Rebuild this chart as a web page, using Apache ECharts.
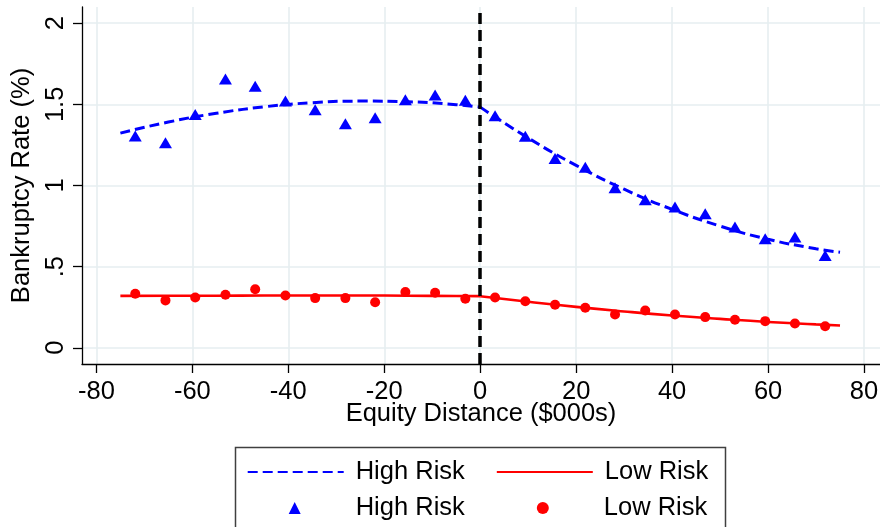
<!DOCTYPE html>
<html><head><meta charset="utf-8">
<script src="https://cdn.jsdelivr.net/npm/echarts@6/dist/echarts.min.js"></script>
<style>html,body{margin:0;padding:0;background:#fff}#c{width:880px;height:527px}</style>
</head><body><div id="c"></div>
<script>
// Bin centres (Equity Distance, $000s)
const binX = [-71.9, -65.6, -59.4, -53.1, -46.9, -40.6, -34.4, -28.1, -21.9, -15.6, -9.4, -3.1,
              3.1, 9.4, 15.6, 21.9, 28.1, 34.4, 40.6, 46.9, 53.1, 59.4, 65.6, 71.9];
// Binned bankruptcy rates (%)
const highRisk = [1.305, 1.264, 1.438, 1.656, 1.611, 1.520, 1.467, 1.381, 1.418, 1.529, 1.557, 1.525,
                  1.430, 1.303, 1.167, 1.113, 0.986, 0.912, 0.867, 0.826, 0.744, 0.672, 0.682, 0.569];
const lowRisk  = [0.333, 0.292, 0.310, 0.327, 0.361, 0.322, 0.306, 0.306, 0.281, 0.343, 0.339, 0.302,
                  0.310, 0.287, 0.265, 0.247, 0.205, 0.230, 0.205, 0.189, 0.173, 0.164, 0.150, 0.133];
// Fitted curves
const fitLeftX  = [-75, -65, -55, -45, -35, -25, -15, -5, 0];
const fitRightX = [0, 10, 20, 30, 40, 50, 60, 70, 75];
const highFitLeft  = [1.323, 1.391, 1.445, 1.485, 1.510, 1.520, 1.516, 1.498, 1.483];
const highFitRight = [1.483, 1.293, 1.124, 0.977, 0.853, 0.750, 0.669, 0.610, 0.589];
const lowFitLeft   = [0.320, 0.321, 0.321, 0.322, 0.322, 0.322, 0.321, 0.319, 0.318];
const lowFitRight  = [0.318, 0.284, 0.252, 0.224, 0.199, 0.178, 0.159, 0.144, 0.137];
// Ticks
const xTicks = [-80, -60, -40, -20, 0, 20, 40, 60, 80];
const yTicks = [0, 0.5, 1, 1.5, 2];
const yTickLabels = ['0', '.5', '1', '1.5', '2'];
const cutoff = 0;

const FONT = '"Liberation Sans", Arial, Helvetica, sans-serif';
const FS = 25.5;
const zip = (xs, ys) => xs.map((x, i) => [x, ys[i]]);
const chart = echarts.init(document.getElementById('c'), null, {renderer: 'canvas'});

const axisCommon = {
  type: 'value',
  axisLine: {show: true, onZero: false, lineStyle: {color: '#000', width: 1.3}},
  axisTick: {show: true, length: 9, lineStyle: {color: '#000', width: 1.3}},
  splitLine: {show: true, lineStyle: {color: '#e6eef0', width: 1.6}},
  nameLocation: 'middle',
  nameMoveOverlap: false,
  nameTextStyle: {fontSize: FS, color: '#000', fontFamily: FONT}
};

const option = {
  animation: false,
  backgroundColor: '#fff',
  textStyle: {fontFamily: FONT},
  grid: {left: 82, right: 0, top: 7, bottom: 163, containLabel: false, outerBoundsMode: 'none'},
  xAxis: Object.assign({}, axisCommon, {
    min: -83, max: 83.33,
    name: 'Equity Distance ($000s)', nameGap: 37,
    axisTick: Object.assign({}, axisCommon.axisTick, {customValues: xTicks}),
    axisLabel: {customValues: xTicks, fontSize: FS, color: '#000', margin: 15, fontFamily: FONT}
  }),
  yAxis: Object.assign({}, axisCommon, {
    min: -0.1, max: 2.1,
    name: 'Bankruptcy Rate (%)', nameGap: 47,
    axisTick: Object.assign({}, axisCommon.axisTick, {customValues: yTicks}),
    axisLabel: {customValues: yTicks, fontSize: FS, color: '#000', margin: 13, rotate: 90, fontFamily: FONT,
      formatter: v => { const i = yTicks.indexOf(v); return i >= 0 ? yTickLabels[i] : ''; }}
  }),
  legend: [
    {data: ['High Risk fit', 'Low Risk fit'], left: 246.7, top: 459, orient: 'horizontal',
     itemWidth: 96, itemHeight: 12, itemGap: 31, selectedMode: false, padding: 0,
     itemStyle: {opacity: 0},
     formatter: n => n.replace(' fit', ''),
     textStyle: {fontSize: FS, color: '#000', fontFamily: FONT, padding: [0, 0, 0, 7]}},
    {data: ['High Risk', 'Low Risk'], left: 288.7, top: 495, orient: 'horizontal',
     itemWidth: 12, itemHeight: 12, itemGap: 72, selectedMode: false, padding: 0,
     textStyle: {fontSize: FS, color: '#000', fontFamily: FONT, padding: [0, 0, 0, 50]}}
  ],
  graphic: [{type: 'rect', silent: true, z: -1,
    shape: {x: 235.5, y: 447.5, width: 490, height: 120},
    style: {fill: 'none', stroke: '#404040', lineWidth: 1.5}}],
  series: [
    {name: 'High Risk fit', type: 'line', data: zip(fitLeftX, highFitLeft), smooth: true, symbol: 'none', z: 2,
     itemStyle: {color: '#0000ff'}, lineStyle: {color: '#0000ff', width: 3, type: [10, 5]},
     markLine: {silent: true, symbol: ['none', 'none'], label: {show: false}, z: 4,
       lineStyle: {color: '#000', width: 3.5, type: [11, 6]}, data: [{xAxis: cutoff}]}},
    {name: 'High Risk fit', type: 'line', data: zip(fitRightX, highFitRight), smooth: true, symbol: 'none', z: 2,
     itemStyle: {color: '#0000ff'}, lineStyle: {color: '#0000ff', width: 3, type: [10, 5]}},
    {name: 'Low Risk fit', type: 'line', data: zip(fitLeftX, lowFitLeft), smooth: true, symbol: 'none', z: 2,
     itemStyle: {color: '#ff0000'}, lineStyle: {color: '#ff0000', width: 2.6}},
    {name: 'Low Risk fit', type: 'line', data: zip(fitRightX, lowFitRight), smooth: true, symbol: 'none', z: 2,
     itemStyle: {color: '#ff0000'}, lineStyle: {color: '#ff0000', width: 2.6}},
    {name: 'High Risk', type: 'scatter', data: zip(binX, highRisk), symbol: 'triangle', symbolSize: [13, 11], z: 3,
     itemStyle: {color: '#0000ff', opacity: 1}},
    {name: 'Low Risk', type: 'scatter', data: zip(binX, lowRisk), symbol: 'circle', symbolSize: 10, z: 3,
     itemStyle: {color: '#ff0000', opacity: 1}}
  ]
};
chart.setOption(option);
</script></body></html>
